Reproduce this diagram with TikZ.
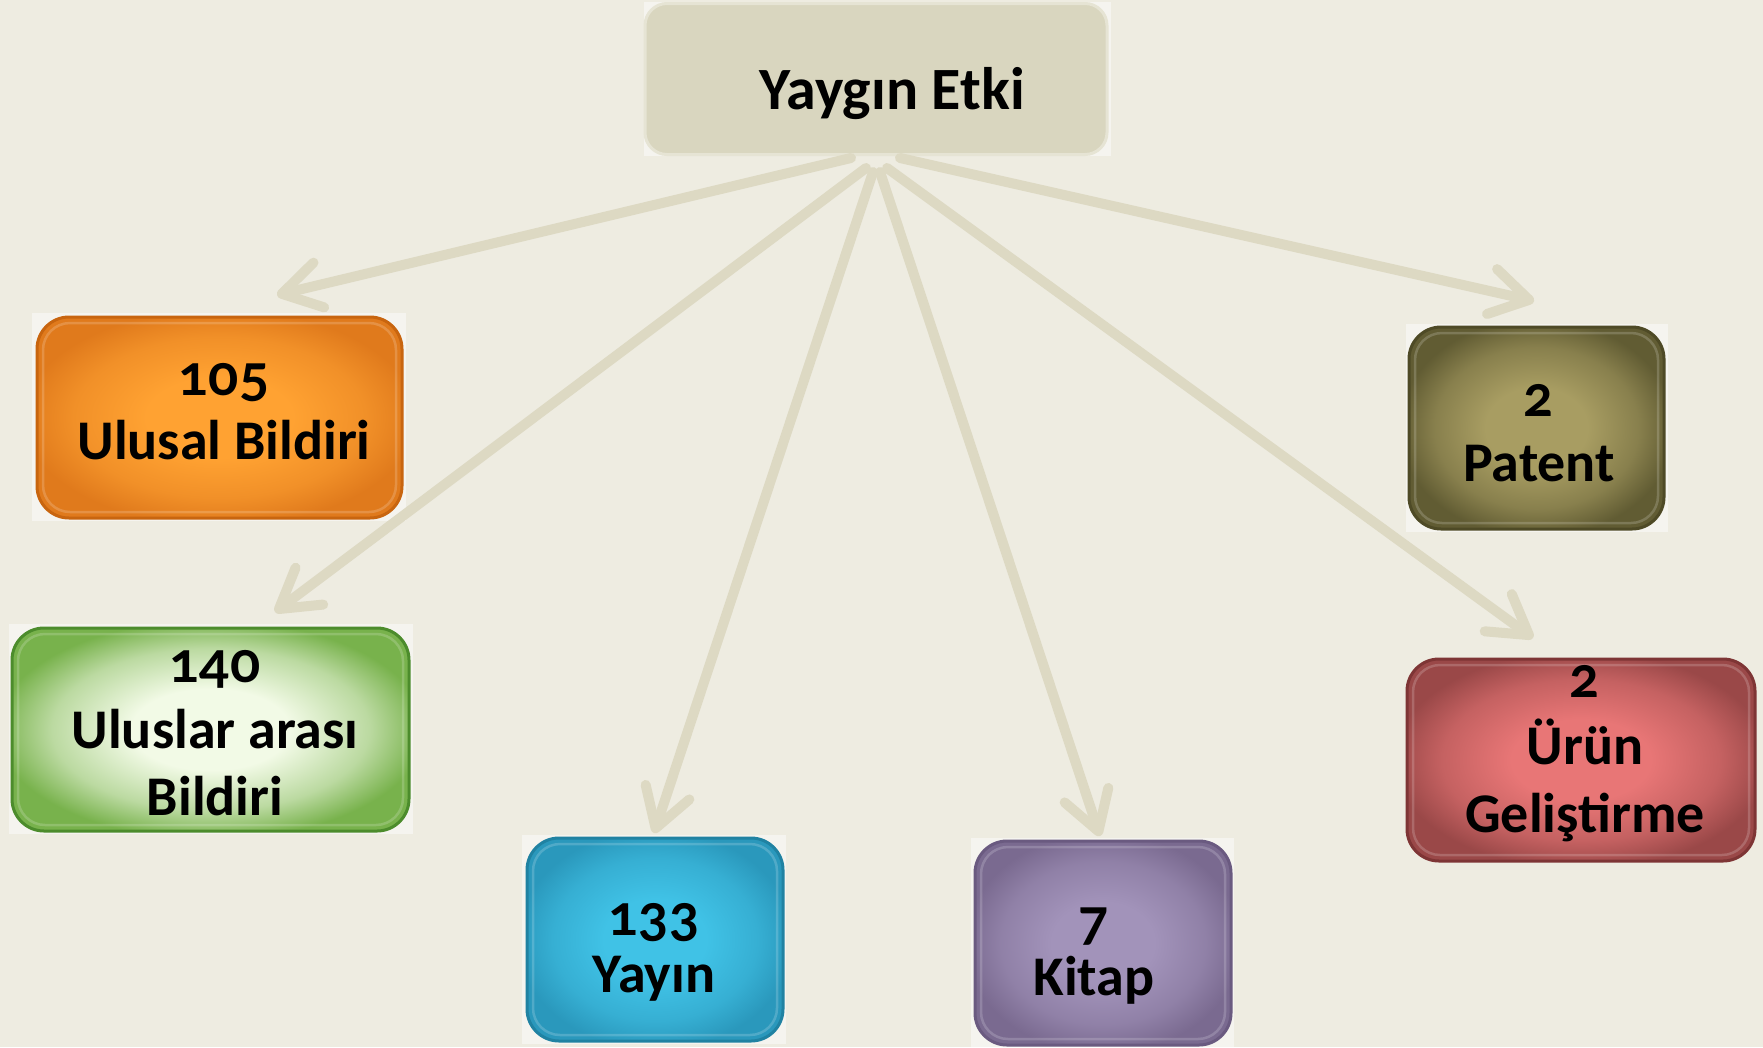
\documentclass[tikz,border=0pt]{standalone}
\usepackage{fontspec}
\setmainfont{Carlito}
\newfontfamily\dig{Lato}[Numbers=OldStyle]
\usetikzlibrary{arrows.meta}
\definecolor{bgc}{HTML}{EEECE1}
\definecolor{arrc}{HTML}{DDD9C3}
\definecolor{backc}{HTML}{F5F4EF}
\definecolor{rootf}{HTML}{D9D6BF}
\definecolor{rootd}{HTML}{E6E4D4}
\definecolor{orI}{HTML}{FFA232}\definecolor{orO}{HTML}{E07A1C}\definecolor{orD}{HTML}{C8650F}
\definecolor{grI}{HTML}{F2FAE6}\definecolor{grO}{HTML}{78B24C}\definecolor{grD}{HTML}{4C8C2C}
\definecolor{cyI}{HTML}{40C2E6}\definecolor{cyO}{HTML}{2A98BC}\definecolor{cyD}{HTML}{2082A2}
\definecolor{puI}{HTML}{A293BA}\definecolor{puO}{HTML}{7A6A90}\definecolor{puD}{HTML}{6A5A80}
\definecolor{olI}{HTML}{A89D62}\definecolor{olO}{HTML}{615C33}\definecolor{olD}{HTML}{4E4A26}
\definecolor{reI}{HTML}{E87676}\definecolor{reO}{HTML}{9A4848}\definecolor{reD}{HTML}{7E3535}
\newcommand\mkshade[3]{\pgfdeclareradialshading{#1}{\pgfpoint{0bp}{0bp}}{color(0bp)=(#2);color(10bp)=(#2);color(20bp)=(#2!55!#3);color(27bp)=(#3);color(50bp)=(#3)}}
\mkshade{shOr}{orI}{orO}
\mkshade{shGr}{grI}{grO}
\mkshade{shCy}{cyI}{cyO}
\mkshade{shPu}{puI}{puO}
\mkshade{shOl}{olI}{olO}
\mkshade{shRe}{reI}{reO}
\begin{document}
\begin{tikzpicture}[x=1pt,y=-1pt,
  tile/.style={rectangle, rounded corners=32pt, line width=3pt, inner sep=0pt,
    path picture={\draw[white, opacity=0.18, line width=2.5pt, rounded corners=27pt]
      ([shift={(6pt,-6pt)}]path picture bounding box.north west) rectangle
      ([shift={(-6pt,6pt)}]path picture bounding box.south east);}},
  plain/.style={rectangle, rounded corners=22pt, line width=3pt, inner sep=0pt},
  backdrop/.style={rectangle, fill=backc, inner sep=0pt},
  lbl/.style={align=center, inner sep=0pt, anchor=base},
  arr/.style={draw=arrc, line width=10pt, line cap=round,
    -{Straight Barb[length=38pt,width=46pt,round]}}]
\fill[bgc] (0,0) rectangle (1763,1047);
\useasboundingbox (0,0) rectangle (1763,1047);
% backdrops
\node[backdrop, minimum width=467pt, minimum height=154pt] (rootB) at (877.5,79) {};
\node[backdrop, minimum width=374pt, minimum height=208pt] (ubB) at (219,417) {};
\node[backdrop, minimum width=404pt, minimum height=210pt] (ibB) at (211,729) {};
\node[backdrop, minimum width=264pt, minimum height=209pt] (ybB) at (654,939.5) {};
\node[backdrop, minimum width=263pt, minimum height=209pt] (kbB) at (1102.5,942.5) {};
\node[backdrop, minimum width=262pt, minimum height=208pt] (pbB) at (1536.5,428) {};
% boxes
\node[plain, fill=rootf, draw=rootd, minimum width=462pt, minimum height=151pt] (root) at (876,79) {};
\node[tile, shading=shOr, draw=orD, minimum width=365pt, minimum height=201pt] (ub) at (219.5,417.5) {};
\node[tile, shading=shGr, draw=grD, minimum width=397pt, minimum height=203pt] (ib) at (210.5,729.5) {};
\node[tile, shading=shCy, draw=cyD, minimum width=256pt, minimum height=203pt] (yb) at (655,939.5) {};
\node[tile, shading=shPu, draw=puD, minimum width=256pt, minimum height=204pt] (kb) at (1103,943) {};
\node[tile, shading=shOl, draw=olD, minimum width=255pt, minimum height=202pt] (pb) at (1536.5,428) {};
\node[tile, shading=shRe, draw=reD, minimum width=348pt, minimum height=202pt] (rb) at (1581,760) {};
% texts (anchor = baseline of last line)
\node[lbl, font=\bfseries\fontsize{60}{70}\selectfont] (rootT) at (892,109) {Yaygın Etki};
\node[lbl, font=\bfseries\fontsize{56}{64}\selectfont] (ubT) at (224,459) {{\dig 105}\\Ulusal Bildiri};
\node[lbl, font=\bfseries\fontsize{56}{66.5}\selectfont] (ibT) at (215,815) {{\dig 140}\\Uluslar arası\\Bildiri};
\node[lbl, font=\bfseries\fontsize{56}{57}\selectfont] (ybT) at (654,992) {{\dig 133}\\Yayın};
\node[lbl, font=\bfseries\fontsize{56}{56}\selectfont] (kbT) at (1094,995) {{\dig 7}\\Kitap};
\node[lbl, font=\bfseries\fontsize{56}{65}\selectfont] (pbT) at (1539,481) {{\dig 2}\\Patent};
\node[lbl, font=\bfseries\fontsize{56}{67.5}\selectfont] (rbT) at (1585,832) {{\dig 2}\\Ürün\\Geliştirme};
% connector coordinates
\coordinate (s1) at (851,158); \coordinate (t1) at (277,295);
\coordinate (s2) at (866,168); \coordinate (t2) at (275,612);
\coordinate (s3) at (873,172); \coordinate (t3) at (654,833);
\coordinate (s4) at (880,172); \coordinate (t4) at (1100,836);
\coordinate (s5) at (887,168); \coordinate (t5) at (1533,638);
\coordinate (s6) at (900,158); \coordinate (t6) at (1534,301);
\draw[arr] (s1) -- (t1);
\draw[arr] (s2) -- (t2);
\draw[arr] (s3) -- (t3);
\draw[arr] (s4) -- (t4);
\draw[arr] (s5) -- (t5);
\draw[arr] (s6) -- (t6);
\end{tikzpicture}
\end{document}
